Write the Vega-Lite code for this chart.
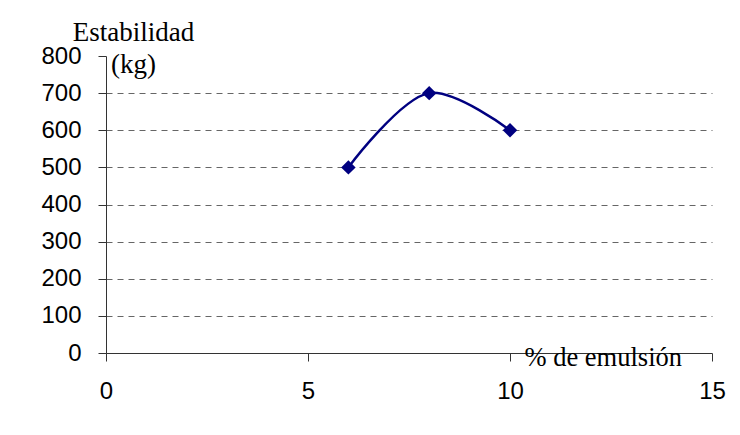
{
  "$schema": "https://vega.github.io/schema/vega-lite/v6.json",
  "autosize": "none",
  "width": 606,
  "height": 297,
  "padding": {"left": 106, "top": 56, "right": 28, "bottom": 82},
  "background": "white",
  "config": {"view": {"stroke": null}},
  "data": {"values": [
    {"emulsion": 6, "estabilidad": 500},
    {"emulsion": 8, "estabilidad": 700},
    {"emulsion": 10, "estabilidad": 600}
  ]},
  "encoding": {
    "x": {
      "field": "emulsion", "type": "quantitative",
      "scale": {"domain": [0, 15], "nice": false, "zero": true},
      "axis": {
        "values": [0, 5, 10, 15],
        "grid": false,
        "domainColor": "#333", "tickColor": "#333", "tickSize": 8,
        "labelFont": "Liberation Sans", "labelFontSize": 24, "labelColor": "black",
        "labelPadding": 18, "labelFlush": false,
        "title": "% de emulsión",
        "titleFont": "Liberation Serif", "titleFontSize": 26.5, "titleFontWeight": "normal",
        "titleColor": "black", "titleAlign": "left", "titleBaseline": "alphabetic",
        "titleX": 418, "titleY": 12, "titleAngle": 0
      }
    },
    "y": {
      "field": "estabilidad", "type": "quantitative",
      "scale": {"domain": [0, 800], "nice": false},
      "axis": {
        "values": [0, 100, 200, 300, 400, 500, 600, 700, 800],
        "grid": true, "gridDash": [6, 5], "gridColor": "#666", "gridWidth": 1,
        "gridOpacity": {"condition": {"test": "datum.value === 800 || datum.value === 0", "value": 0}, "value": 1},
        "domainColor": "#333", "tickColor": "#333", "tickSize": 8,
        "labelFont": "Liberation Sans", "labelFontSize": 24, "labelColor": "black",
        "labelPadding": 17, "labelFlush": false,
        "title": ["Estabilidad", "(kg)"],
        "titleFont": "Liberation Serif", "titleFontSize": 27, "titleFontWeight": "normal",
        "titleColor": "black", "titleAngle": 0, "titleAlign": "center",
        "titleBaseline": "alphabetic", "titleLineHeight": 32,
        "titleX": 27, "titleY": -16
      }
    }
  },
  "layer": [
    {"mark": {"type": "line", "color": "#000080", "strokeWidth": 2.5, "interpolate": "catmull-rom"}},
    {"mark": {"type": "point", "shape": "diamond", "filled": true, "color": "#000080", "opacity": 1, "size": 210}}
  ]
}
